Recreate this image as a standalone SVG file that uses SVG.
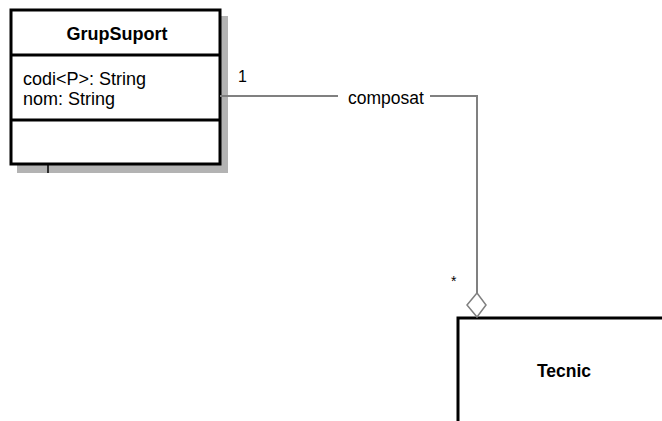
<svg xmlns="http://www.w3.org/2000/svg" width="662" height="421" viewBox="0 0 662 421">
<style>
.box{fill:#fff;stroke:#000;stroke-width:3}
.shadow{fill:#b3b3b3}
.conn{fill:none;stroke:#808080;stroke-width:2}
.t{font-family:"Liberation Sans",Arial,sans-serif;font-size:18px;fill:#000}
.b{font-weight:bold;text-anchor:middle;font-size:18px}
</style>
<rect width="662" height="421" fill="#fff"/>
<g id="GrupSuport">
<rect class="shadow" x="17" y="16" width="211" height="157"/>
<rect class="box" x="11" y="10" width="209" height="154"/>
<line x1="11" y1="55" x2="220" y2="55" stroke="#000" stroke-width="3"/>
<line x1="11" y1="120" x2="220" y2="120" stroke="#000" stroke-width="3"/>
<line x1="48" y1="164" x2="48" y2="173" stroke="#000" stroke-width="1.5"/>
<text class="t b" x="117" y="40">GrupSuport</text>
<text class="t" x="23" y="85">codi&lt;P&gt;: String</text>
<text class="t" x="23" y="105">nom: String</text>
</g>
<g id="Tecnic">
<rect class="box" x="458" y="318" width="220" height="110"/>
<text class="t b" x="564" y="377" style="font-size:17.5px">Tecnic</text>
</g>
<g id="connectors">
<polyline class="conn" points="220,96 338,96"/>
<polyline class="conn" points="430,96 477,96 477,293"/>
<polygon points="477,293 486,305 477,317 467,305" fill="#fff" stroke="#808080" stroke-width="1.5"/>
<text class="t" x="348" y="104" style="font-size:17.5px">composat</text>
<text class="t" x="238" y="82" style="font-size:16px">1</text>
<text class="t" x="451" y="286" style="font-size:14px">*</text>
</g>
</svg>
